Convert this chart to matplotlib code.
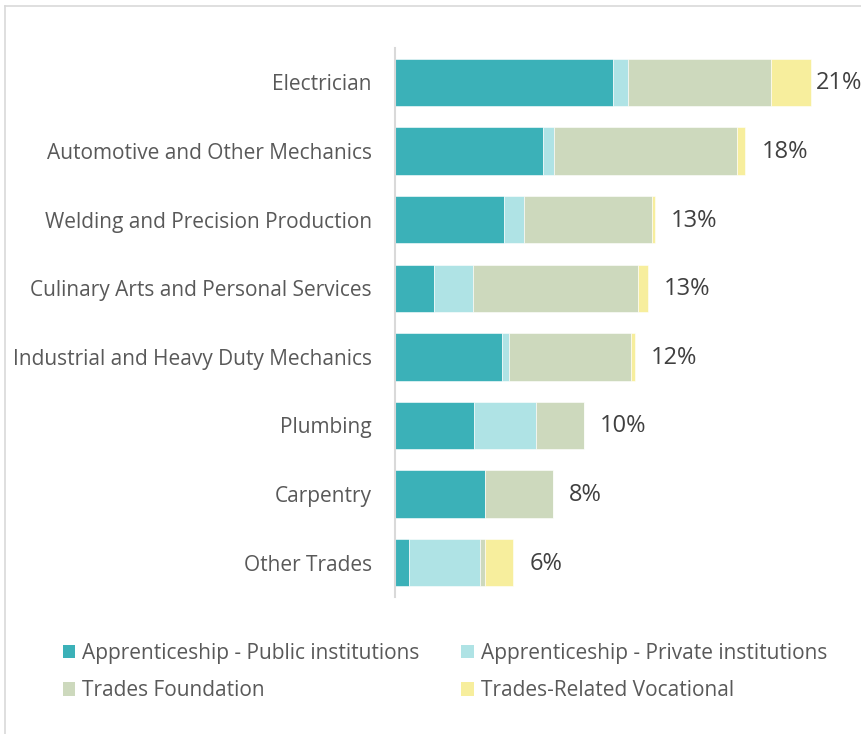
import matplotlib
matplotlib.use("Agg")
import matplotlib.pyplot as plt
from matplotlib.lines import Line2D
from matplotlib.patches import Patch

# Share of trades enrolments by programme type (%)
trades = ["Electrician", "Automotive and Other Mechanics", "Welding and Precision Production",
          "Culinary Arts and Personal Services", "Industrial and Heavy Duty Mechanics",
          "Plumbing", "Carpentry", "Other Trades"]
appr_public = [11.07, 7.55, 5.56, 1.96, 5.41, 4.03, 4.59, 0.71]
appr_private = [0.78, 0.54, 0.99, 1.99, 0.39, 3.16, 0.00, 3.59]
foundation = [7.28, 9.35, 6.51, 8.42, 6.19, 2.43, 3.45, 0.29]
vocational = [2.08, 0.41, 0.19, 0.51, 0.22, 0.00, 0.00, 1.43]
total_labels = ["21%", "18%", "13%", "13%", "12%", "10%", "8%", "6%"]

series = ["Apprenticeship - Public institutions", "Apprenticeship - Private institutions",
          "Trades Foundation", "Trades-Related Vocational"]
colors = ["#3BB1B8", "#AFE3E5", "#CDD9BD", "#F7EE9D"]

FONT = "Open Sans"
LABEL_CLR = "#595959"
VALUE_CLR = "#404040"
LINE_CLR = "#D9D9D9"

fig = plt.figure(figsize=(8.61, 7.34), dpi=100, facecolor="white")
ax = fig.add_axes([0.4593, 0.1866, 0.501, 0.748])

y = list(range(len(trades)))
left = [0.0] * len(trades)
for vals, color, name in zip([appr_public, appr_private, foundation, vocational], colors, series):
    ax.barh(y, vals, left=left, height=0.69, color=color, edgecolor="white",
            linewidth=0.4, label=name)
    left = [l + v for l, v in zip(left, vals)]

# total labels at the end of each bar
for i, (tot, lab) in enumerate(zip(left, total_labels)):
    off = 5 if i == 0 else 16
    ax.annotate(lab, (tot, i), xytext=(off, -1), textcoords="offset pixels",
                ha="left", va="center", fontsize=17, color=VALUE_CLR,
                family=FONT, annotation_clip=False)

ax.set_ylim(len(trades) - 0.5, -0.5)
ax.set_xlim(0, 22)
ax.set_yticks(y)
ax.set_yticklabels(trades, fontsize=15.0, color=LABEL_CLR, family=FONT)
ax.tick_params(axis="y", length=0, pad=17)
ax.set_xticks([])
for s in ["top", "right", "bottom"]:
    ax.spines[s].set_visible(False)
ax.spines["left"].set_color(LINE_CLR)
ax.spines["left"].set_linewidth(1.5)

handles = [Patch(facecolor=c, edgecolor="none") for c in colors]
order = [0, 2, 1, 3]
leg = fig.legend([handles[k] for k in order], [series[k] for k in order],
                 ncol=2, loc="upper left", bbox_to_anchor=(0.051, 0.150),
                 frameon=False, handlelength=0.6, handleheight=0.6,
                 handletextpad=0.35, columnspacing=2.0, labelspacing=0.8,
                 prop={"family": FONT, "size": 15})
for t in leg.get_texts():
    t.set_color(LABEL_CLR)

# chart frame edges
fig.add_artist(Line2D([0.006, 0.006], [0.0, 0.992], transform=fig.transFigure,
                      color=LINE_CLR, linewidth=1.2))
fig.add_artist(Line2D([0.006, 1.0], [0.992, 0.992], transform=fig.transFigure,
                      color=LINE_CLR, linewidth=1.2))

fig.savefig("out.png", dpi=100, facecolor="white")
